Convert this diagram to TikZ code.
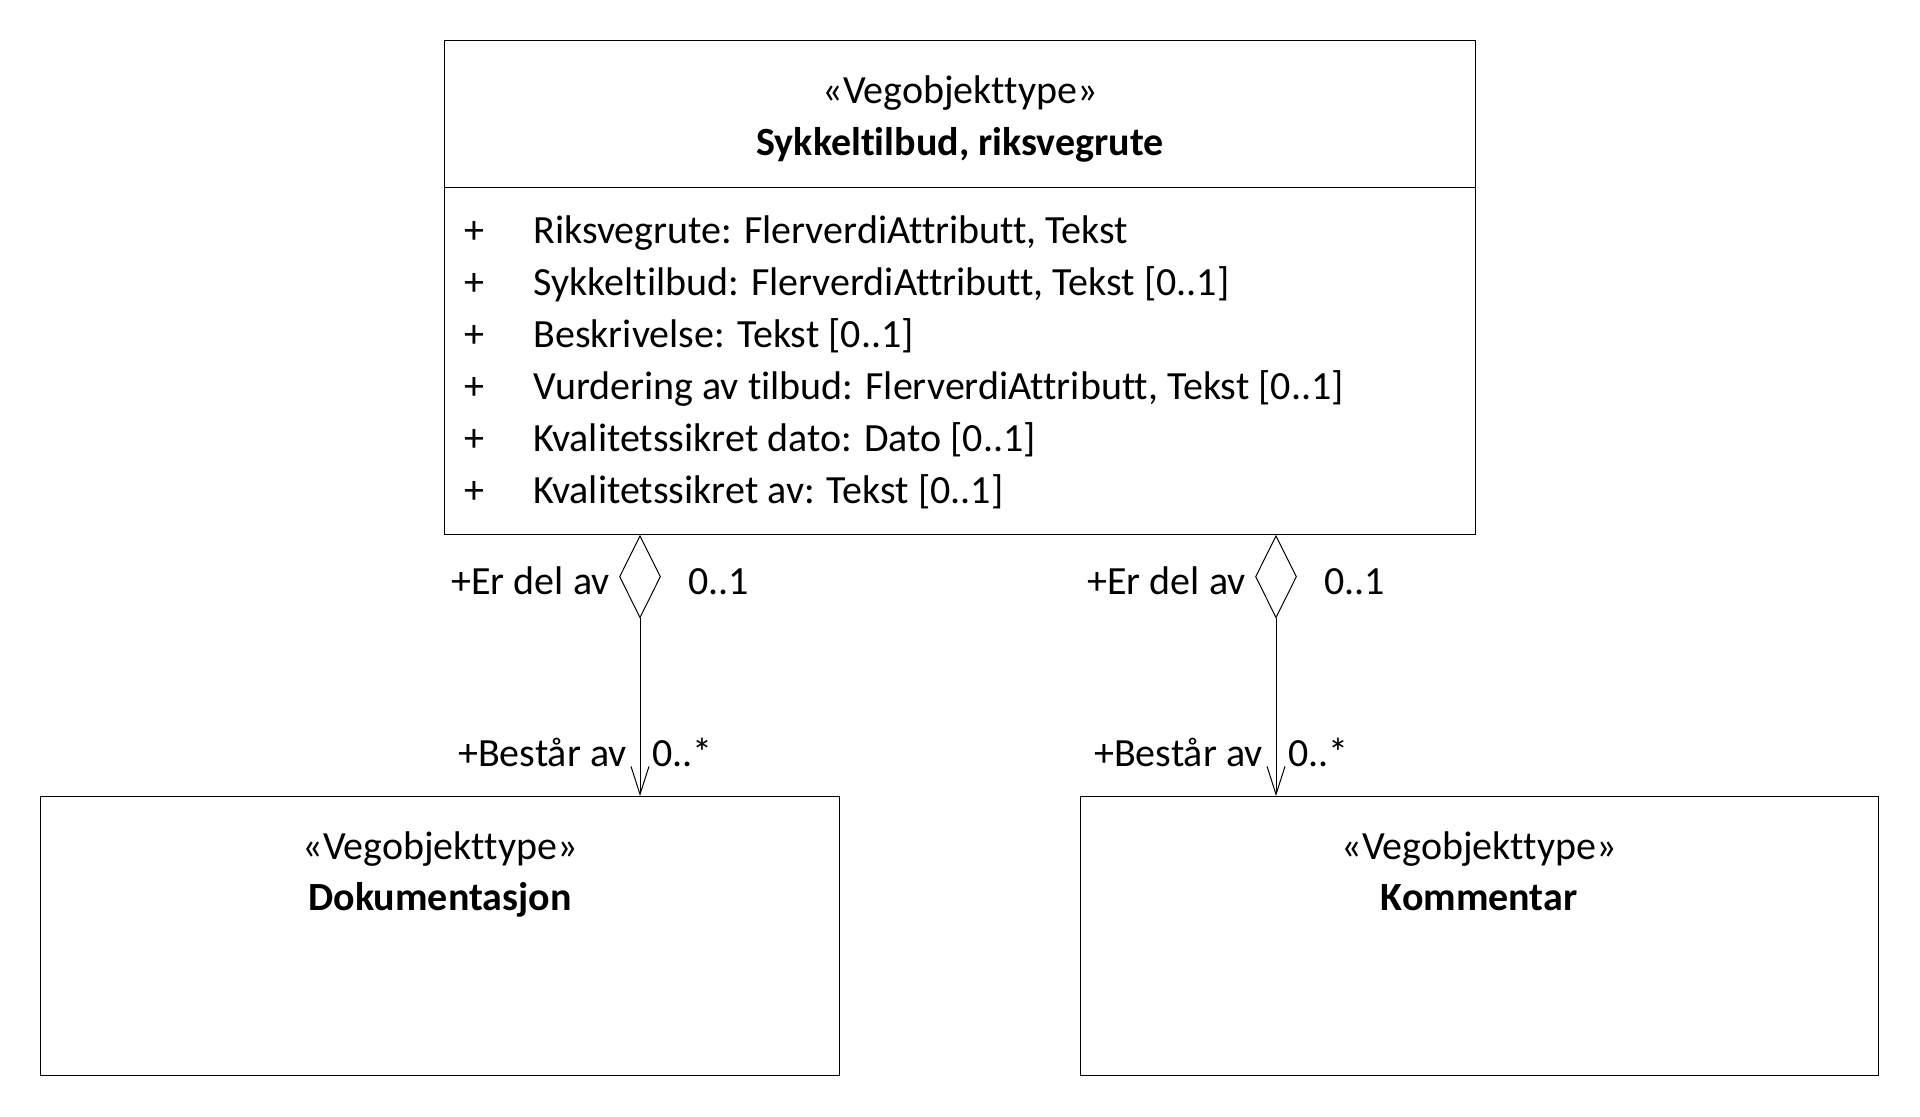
\documentclass[tikz,border=0pt]{standalone}
\usepackage{fontspec}
\setmainfont{Carlito}[Ligatures=NoCommon]
\usetikzlibrary{positioning,shapes.geometric,arrows.meta}

\begin{document}
\begin{tikzpicture}[
    x=0.5pt, y=-0.5pt,
    cls/.style={draw, line width=0.6pt, inner sep=0, anchor=north west},
    txt/.style={inner sep=0, font=\fontsize{20}{24}\selectfont},
    bold/.style={txt, font=\fontsize{20}{24}\selectfont\bfseries},
    agg/.style={draw, diamond, inner sep=0, minimum width=20.5pt, minimum height=41pt, line width=0.5pt},
    >={Straight Barb[length=14pt,width=9pt]}
]
    \useasboundingbox (0,0) rectangle (1920,1116);

    % Class boxes
    \node[cls, minimum width=515.5pt, minimum height=247pt] (ruta) at (444,40) {};
    \node[cls, minimum width=399.5pt, minimum height=139.5pt] (dok) at (40,796) {};
    \node[cls, minimum width=399pt, minimum height=139.5pt] (kom) at (1080,796) {};

    % Compartment line
    \draw[line width=0.5pt] (ruta.west |- 0,187) -- (ruta.east |- 0,187);

    % Headers
    \node[txt, anchor=mid] (rutast) at (960,99) {«Vegobjekttype»};
    \node[bold, anchor=mid] (rutanm) at (960,151) {Sykkeltilbud, riksvegrute};
    \node[txt, anchor=mid] (dokst) at (440,855) {«Vegobjekttype»};
    \node[bold, anchor=mid] (doknm) at (440,906) {Dokumentasjon};
    \node[txt, anchor=mid] (komst) at (1479,855) {«Vegobjekttype»};
    \node[bold, anchor=mid] (komnm) at (1479,906) {Kommentar};

    % Attributes
    \foreach \i/\attr in {0/{Riksvegrute: FlerverdiAttributt, Tekst},
                          1/{Sykkeltilbud: FlerverdiAttributt, Tekst [0..1]},
                          2/{Beskrivelse: Tekst [0..1]},
                          3/{Vurdering av tilbud: FlerverdiAttributt, Tekst [0..1]},
                          4/{Kvalitetssikret dato: Dato [0..1]},
                          5/{Kvalitetssikret av: Tekst [0..1]}} {
        \node[txt, anchor=mid] (plus\i) at (474,239+52*\i) {+};
        \node[txt, anchor=mid west] (attr\i) at (533,239+52*\i) {\attr};
    }

    % Aggregations
    \node[agg, anchor=north] (agg1) at (ruta.south -| 640,0) {};
    \node[agg, anchor=north] (agg2) at (ruta.south -| 1276,0) {};
    \draw[->, line width=0.5pt] (agg1.south) -- (dok.north -| agg1.south);
    \draw[->, line width=0.5pt] (agg2.south) -- (kom.north -| agg2.south);

    % Role labels
    \node[txt, anchor=mid east] (erdel1) at (610,590) {+Er del av};
    \node[txt, anchor=mid west] (mult1) at (688,590) {0..1};
    \node[txt, anchor=mid east] (best1) at (627,762) {+Består av};
    \node[txt, anchor=mid west] (many1) at (652,762) {0..*};
    \node[txt, anchor=mid east] (erdel2) at (1246,590) {+Er del av};
    \node[txt, anchor=mid west] (mult2) at (1324,590) {0..1};
    \node[txt, anchor=mid east] (best2) at (1263,762) {+Består av};
    \node[txt, anchor=mid west] (many2) at (1288,762) {0..*};
\end{tikzpicture}
\end{document}
